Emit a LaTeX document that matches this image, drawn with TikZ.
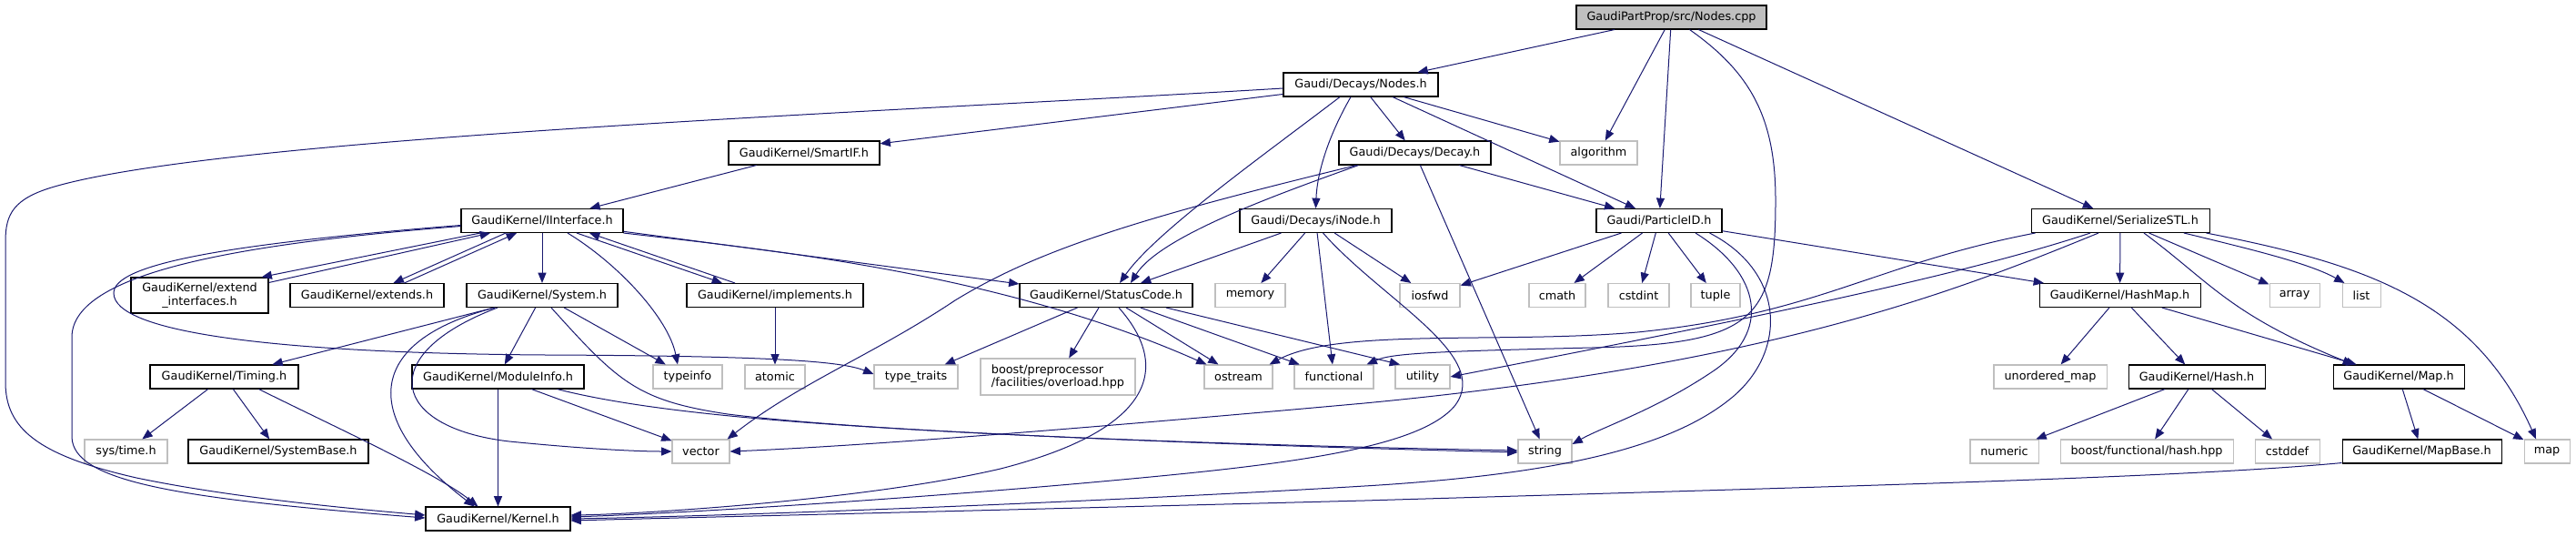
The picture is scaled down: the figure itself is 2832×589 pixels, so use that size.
\documentclass[tikz,border=0pt]{standalone}
\usepackage{fontspec}
\setmainfont{DejaVu Sans}
\usetikzlibrary{arrows.meta,calc}
\definecolor{edgeblue}{HTML}{191970}
\definecolor{extgray}{HTML}{BFBFBF}
\begin{document}
\begin{tikzpicture}[x=0.75pt,y=-0.75pt,
  nd/.style={rectangle, minimum height=19.5pt, minimum width=#1*0.75pt, inner sep=1pt, font=\fontsize{9.6}{11}\selectfont, text=black},
  intbox/.style={nd=#1, draw=black, line width=0.8pt, fill=white},
  extbox/.style={nd=#1, draw=extgray, line width=0.8pt, fill=white},
  rootbox/.style={nd=#1, draw=black, line width=0.8pt, fill=extgray},
  ed/.style={draw=edgeblue, line width=0.75pt, -{Triangle[length=8.5pt,width=6.8pt]}}]
\useasboundingbox (0,0) rectangle (2832,589);

% nodes
\node[rootbox=209] (cpp) at (1837.5,19) {GaudiPartProp/src/Nodes.cpp};
\node[intbox=170] (nodesh) at (1496,93) {Gaudi/Decays/Nodes.h};
\node[intbox=166] (smartif) at (884,168) {GaudiKernel/SmartIF.h};
\node[intbox=167] (decay) at (1555.5,168) {Gaudi/Decays/Decay.h};
\node[extbox=85] (algorithm) at (1757.5,168) {algorithm};
\node[intbox=178] (iinterface) at (596,242.5) {GaudiKernel/IInterface.h};
\node[intbox=167] (inode) at (1446.5,242.5) {Gaudi/Decays/iNode.h};
\node[intbox=138] (pid) at (1824,242.5) {Gaudi/ParticleID.h};
\node[intbox=196] (sstl) at (2331,242.5) {GaudiKernel/SerializeSTL.h};
\node[intbox=151, minimum height=29.25pt, align=center] (extint) at (219.5,324.5) {GaudiKernel/extend\\\_interfaces.h};
\node[intbox=169] (extends) at (403.5,324.5) {GaudiKernel/extends.h};
\node[intbox=166] (system) at (596,324.5) {GaudiKernel/System.h};
\node[intbox=194] (implements) at (852,324.5) {GaudiKernel/implements.h};
\node[intbox=190] (statuscode) at (1216,324.5) {GaudiKernel/StatusCode.h};
\node[extbox=77] (memory) at (1374.5,324.5) {memory};
\node[extbox=66] (iosfwd) at (1572,324.5) {iosfwd};
\node[extbox=62] (cmath) at (1712,324.5) {cmath};
\node[extbox=67] (cstdint) at (1801.5,324.5) {cstdint};
\node[extbox=54] (tuple) at (1886,324.5) {tuple};
\node[intbox=177] (hashmap) at (2330.5,324.5) {GaudiKernel/HashMap.h};
\node[extbox=55] (array) at (2522.5,324.5) {array};
\node[extbox=42] (list) at (2596,324.5) {list};
\node[intbox=163] (timing) at (246.5,414) {GaudiKernel/Timing.h};
\node[intbox=189] (moduleinfo) at (547.5,414) {GaudiKernel/ModuleInfo.h};
\node[extbox=76] (typeinfo) at (756,414) {typeinfo};
\node[extbox=66] (atomic) at (852,414) {atomic};
\node[extbox=92] (typetraits) at (1007,414) {type\_traits};
\node[extbox=170, minimum height=30pt, align=left] (boostpp) at (1163,414) {boost/preprocessor\\/facilities/overload.hpp};
\node[extbox=75] (ostream) at (1361.5,414) {ostream};
\node[extbox=87] (functional) at (1466.5,414) {functional};
\node[extbox=60] (utility) at (1564,414) {utility};
\node[extbox=124] (unordmap) at (2254,414) {unordered\_map};
\node[intbox=150] (hash) at (2415,414) {GaudiKernel/Hash.h};
\node[intbox=144] (maph) at (2637,414) {GaudiKernel/Map.h};
\node[extbox=91] (systime) at (138.5,496) {sys/time.h};
\node[intbox=198] (systembase) at (306,496) {GaudiKernel/SystemBase.h};
\node[extbox=63] (vector) at (770.5,496) {vector};
\node[extbox=59] (string) at (1698.5,496) {string};
\node[extbox=75] (numeric) at (2203.5,496) {numeric};
\node[extbox=190] (boosthash) at (2360,496) {boost/functional/hash.hpp};
\node[extbox=71] (cstddef) at (2514.5,496) {cstddef};
\node[intbox=175] (mapbase) at (2662.5,496) {GaudiKernel/MapBase.h};
\node[extbox=50] (mapn) at (2800,496) {map};
\node[intbox=159] (kernel) at (547.5,570) {GaudiKernel/Kernel.h};

% Nodes.cpp
\draw[ed] (cpp) -- (nodesh);
\draw[ed] (cpp) -- (algorithm);
\draw[ed] (cpp) -- (pid);
\draw[ed] (cpp) -- (sstl);
\draw[ed] ($(cpp.south)+(20,0)$) .. controls (1925,80) and (1952,130) .. (1952,220) .. controls (1952,350) and (1930,378) .. (1750,382) .. controls (1580,386) and (1530,388) .. ($(functional.north east)+(-8,0)$);

% Nodes.h
\draw[ed] ($(nodesh.west)+(0,4)$) .. controls (1000,122) and (250,150) .. (60,205) .. controls (15,218) and (6,235) .. (6,265) -- (6,420) .. controls (6,470) and (40,500) .. (150,525) .. controls (260,548) and (400,560) .. ($(kernel.west)+(0,-4)$);
\draw[ed] (nodesh) -- (smartif);
\draw[ed] ($(nodesh.south)+(-23,0)$) .. controls (1390,170) and (1270,255) .. ($(statuscode.north)+(15,0)$);
\draw[ed] ($(nodesh.south)+(-11,0)$) .. controls (1460,150) and (1448,190) .. (inode.north);
\draw[ed] (nodesh) -- (decay);
\draw[ed] (nodesh) -- (algorithm);
\draw[ed] ($(nodesh.south)+(35,0)$) -- ($(pid.north)+(-26,0)$);

% SmartIF
\draw[ed] (smartif) -- (iinterface);

% Decay.h
\draw[ed] (decay) -- (pid);
\draw[ed] ($(decay.south)+(-62,0)$) .. controls (1400,215) and (1275,260) .. ($(statuscode.north)+(27,0)$);
\draw[ed] ($(decay.south)+(-64,0)$) .. controls (1250,240) and (1140,275) .. (1050,330) .. controls (960,390) and (880,420) .. ($(vector.north east)+(-3,0)$);
\draw[ed] (decay) -- (string);

% IInterface.h
\draw[ed] ($(iinterface.south)+(-68,0)$) -- ($(extint.north east)+(-8,0)$);
\draw[ed] ($(extint.east)+(0,-14)$) -- ($(iinterface.south)+(-57,0)$);
\draw[ed] ($(iinterface.south)+(-40,0)$) -- ($(extends.north)+(29,0)$);
\draw[ed] ($(extends.north)+(41,0)$) -- ($(iinterface.south)+(-28,0)$);
\draw[ed] (iinterface) -- (system);
\draw[ed] ($(iinterface.south)+(38,0)$) -- ($(implements.north)+(-58,0)$);
\draw[ed] ($(implements.north)+(-44,0)$) -- ($(iinterface.south)+(52,0)$);
\draw[ed] ($(iinterface.south)+(28,0)$) .. controls (680,290) and (735,350) .. ($(typeinfo.north)+(-11,0)$);
\draw[ed] (iinterface) -- (statuscode);
\draw[ed] (iinterface.south east) .. controls (850,275) and (1100,300) .. ($(ostream.north west)+(3,0)$);
\draw[ed] ($(iinterface.west)+(0,5)$) .. controls (250,268) and (125,290) .. (125,322) .. controls (125,365) and (300,388) .. (600,390) .. controls (850,391) and (925,397) .. ($(typetraits.west)+(0,-3)$);
\draw[ed] ($(iinterface.west)+(0,6)$) .. controls (260,268) and (80,300) .. (79,370) -- (79,480) .. controls (80,530) and (200,548) .. ($(kernel.west)+(0,-1)$);

% System.h
\draw[ed] (system) -- (timing);
\draw[ed] ($(system.south)+(-52,0)$) .. controls (400,375) and (395,460) .. ($(kernel.north)+(-26,0)$);
\draw[ed] ($(system.south)+(-49,0)$) .. controls (410,390) and (430,470) .. (560,485) .. controls (640,493) and (700,496) .. (vector.west);
\draw[ed] (system) -- (moduleinfo);
\draw[ed] (system) -- (typeinfo);
\draw[ed] ($(system.south)+(10,0)$) .. controls (680,420) and (700,440) .. (800,455) .. controls (1000,480) and (1500,492) .. ($(string.west)+(0,-1)$);

% ModuleInfo.h
\draw[ed] (moduleinfo) -- (kernel);
\draw[ed] (moduleinfo) -- (vector);
\draw[ed] ($(moduleinfo.south)+(65,0)$) .. controls (720,455) and (900,467) .. (1100,477) .. controls (1350,489) and (1550,494) .. ($(string.west)+(0,1)$);

% Timing.h
\draw[ed] (timing) -- (systime);
\draw[ed] (timing) -- (systembase);
\draw[ed] ($(timing.south)+(38,0)$) .. controls (370,470) and (480,520) .. ($(kernel.north)+(-22,0)$);

% implements.h
\draw[ed] (implements) -- (atomic);

% StatusCode.h
\draw[ed] (statuscode) -- (typetraits);
\draw[ed] (statuscode) -- (boostpp);
\draw[ed] ($(statuscode.south)+(14,0)$) .. controls (1285,400) and (1275,470) .. (1100,515) .. controls (950,550) and (700,565) .. ($(kernel.east)+(0,-4)$);
\draw[ed] (statuscode) -- (ostream);
\draw[ed] (statuscode) -- (functional);
\draw[ed] ($(statuscode.south)+(66,0)$) -- ($(utility.north)+(-25,0)$);

% iNode.h
\draw[ed] (inode) -- (statuscode);
\draw[ed] (inode) -- (memory);
\draw[ed] (inode) -- (functional);
\draw[ed] (inode) -- (iosfwd);
\draw[ed] ($(inode.south)+(8,0)$) .. controls (1520,330) and (1640,390) .. (1600,445) .. controls (1560,495) and (1400,512) .. (1200,530) .. controls (1000,548) and (750,564) .. ($(kernel.east)+(0,-2)$);

% ParticleID.h
\draw[ed] (pid) -- (iosfwd);
\draw[ed] (pid) -- (cmath);
\draw[ed] (pid) -- (cstdint);
\draw[ed] (pid) -- (tuple);
\draw[ed] ($(pid.south)+(40,0)$) .. controls (1935,300) and (1950,365) .. (1880,410) .. controls (1820,450) and (1760,470) .. ($(string.east)+(0,-8)$);
\draw[ed] ($(pid.south east)+(-14,0)$) .. controls (1965,300) and (1965,390) .. (1900,440) .. controls (1830,495) and (1700,522) .. (1500,534) .. controls (1200,552) and (800,567) .. (kernel.east);
\draw[ed] (pid) -- (hashmap);

% SerializeSTL.h
\draw[ed] ($(sstl.south west)+(5,0)$) .. controls (2060,290) and (2000,345) .. (1800,365) .. controls (1650,378) and (1470,360) .. ($(ostream.north east)+(-4,0)$);
\draw[ed] ($(sstl.south)+(-33,0)$) .. controls (2150,305) and (1900,355) .. (utility.east);
\draw[ed] ($(sstl.south)+(-24,0)$) .. controls (2150,320) and (1950,400) .. (1500,443) .. controls (1200,470) and (950,490) .. (vector.east);
\draw[ed] (sstl) -- (hashmap);
\draw[ed] ($(sstl.south)+(26,0)$) .. controls (2430,310) and (2450,345) .. ($(maph.north)+(-50,0)$);
\draw[ed] (sstl) -- (array);
\draw[ed] ($(sstl.south)+(70,0)$) .. controls (2480,275) and (2540,290) .. ($(list.north west)+(3,0)$);
\draw[ed] ($(sstl.south east)+(-4,0)$) .. controls (2600,290) and (2720,330) .. ($(mapn.north)+(-12,0)$);

% HashMap.h
\draw[ed] (hashmap) -- (unordmap);
\draw[ed] (hashmap) -- (hash);
\draw[ed] (hashmap) -- (maph);

% Hash.h
\draw[ed] (hash) -- (numeric);
\draw[ed] (hash) -- (boosthash);
\draw[ed] (hash) -- (cstddef);

% Map.h
\draw[ed] (maph) -- (mapbase);
\draw[ed] (maph) -- (mapn);

% MapBase.h
\draw[ed] ($(mapbase.south west)+(0,-1)$) .. controls (2400,525) and (2000,535) .. (1500,550) .. controls (1000,563) and (700,570) .. ($(kernel.east)+(0,2)$);
\end{tikzpicture}
\end{document}
